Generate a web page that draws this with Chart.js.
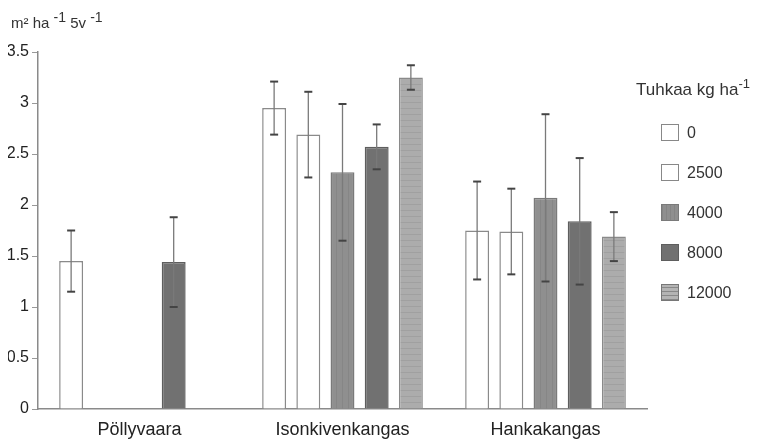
<!DOCTYPE html>
<html>
<head>
<meta charset="utf-8">
<script src="https://cdn.jsdelivr.net/npm/chart.js@4"></script>
<style>
  body { margin: 0; background: #fff; }
  #wrap { position: relative; width: 768px; height: 441px; }
  #legend, #ytitle { position: absolute; left: 0; top: 0; font-family: "Liberation Sans", Arial, sans-serif; color: #333; }
  #ytitle { left: 11px; top: 9px; font-size: 15px; white-space: nowrap; }
  #ytitle sup { font-size: 14px; }
  #legend .title { position: absolute; left: 636px; top: 76px; font-size: 17px; white-space: nowrap; }
  #legend .title sup { font-size: 13px; }
  #legend .item { position: absolute; left: 661px; font-size: 16px; height: 17px; line-height: 17px; white-space: nowrap; }
  #legend .sw { display: inline-block; width: 18px; height: 17px; box-sizing: border-box; border: 1px solid #888; vertical-align: top; margin-right: 8px; }
</style>
</head>
<body>
<div id="wrap">
  <canvas id="chart"></canvas>
  <div id="ytitle">m² ha <sup>-1</sup> 5v <sup>-1</sup></div>
  <div id="legend"></div>
</div>
<script>
// Kohteet
const kohteet = ['Pöllyvaara', 'Isonkivenkangas', 'Hankakangas'];

// Tuhkamäärät (kg/ha)
const tuhkaa = ['0', '2500', '4000', '8000', '12000'];

// Kasvu m2/ha/5v, keskiarvot
const arvot0 = [1.45, 2.95, 1.75];
const arvot2500 = [null, 2.69, 1.74];
const arvot4000 = [null, 2.32, 2.07];
const arvot8000 = [1.44, 2.57, 1.84];
const arvot12000 = [null, 3.25, 1.69];

// Keskihajonnat
const hajonta0 = [0.30, 0.26, 0.48];
const hajonta2500 = [null, 0.42, 0.42];
const hajonta4000 = [null, 0.67, 0.82];
const hajonta8000 = [0.44, 0.22, 0.62];
const hajonta12000 = [null, 0.12, 0.24];

// Kuviot pylväisiin
function makePattern(base, line, vertical) {
  const c = document.createElement('canvas');
  c.width = 6; c.height = 6;
  const g = c.getContext('2d');
  g.fillStyle = base;
  g.fillRect(0, 0, 6, 6);
  g.fillStyle = line;
  if (vertical) g.fillRect(0, 0, 1, 6);
  else g.fillRect(0, 0, 6, 1);
  return g.createPattern(c, 'repeat');
}

const fills = [
  '#ffffff',
  '#ffffff',
  makePattern('#8f8f8f', '#868686', true),
  '#717171',
  makePattern('#acacac', '#a0a0a0', false)
];
const borders = ['#8a8a8a', '#8a8a8a', '#7a7a7a', '#5e5e5e', '#8a8a8a'];
const swatchCss = [
  'background:#fff',
  'background:#fff',
  'background:#8f8f8f repeating-linear-gradient(90deg,#858585 0 1px,#8f8f8f 1px 4px);border-color:#7a7a7a',
  'background:#717171;border-color:#5e5e5e',
  'background:#b4b4b4 repeating-linear-gradient(0deg,#888 0 1px,#b4b4b4 1px 4px);border-color:#777'
];

const arvot = [arvot0, arvot2500, arvot4000, arvot8000, arvot12000];
const hajonnat = [hajonta0, hajonta2500, hajonta4000, hajonta8000, hajonta12000];

// Virhepalkit
const virhepalkit = {
  id: 'virhepalkit',
  afterDatasetsDraw(chart) {
    const ctx = chart.ctx;
    const y = chart.scales.y;
    chart.data.datasets.forEach((ds, i) => {
      const meta = chart.getDatasetMeta(i);
      meta.data.forEach((bar, j) => {
        const v = ds.data[j];
        const e = ds.virheet[j];
        if (v == null || e == null) return;
        const yTop = y.getPixelForValue(v + e);
        const yBot = y.getPixelForValue(v - e);
        ctx.save();
        ctx.strokeStyle = '#7a7a7a';
        ctx.lineWidth = 1.3;
        ctx.beginPath();
        ctx.moveTo(bar.x, yTop);
        ctx.lineTo(bar.x, yBot);
        ctx.stroke();
        ctx.strokeStyle = '#444';
        ctx.lineWidth = 2;
        [yTop, yBot].forEach(yy => {
          ctx.beginPath();
          ctx.moveTo(bar.x - 4, yy);
          ctx.lineTo(bar.x + 4, yy);
          ctx.stroke();
        });
        ctx.restore();
      });
    });
  }
};

const datasets = tuhkaa.map((t, i) => ({
  label: t,
  data: arvot[i],
  virheet: hajonnat[i],
  backgroundColor: fills[i],
  borderColor: borders[i],
  borderWidth: 1.5,
  categoryPercentage: 0.842,
  barPercentage: 0.7
}));

Chart.defaults.font.family = '"Liberation Sans", Arial, sans-serif';
Chart.defaults.color = '#333';

new Chart(document.getElementById('chart'), {
  type: 'bar',
  data: { labels: kohteet, datasets: datasets },
  options: {
    responsive: true,
    maintainAspectRatio: false,
    animation: false,
    layout: { padding: { left: 8, right: 121, top: 52, bottom: 0 } },
    plugins: {
      legend: { display: false },
      tooltip: { enabled: false }
    },
    scales: {
      x: {
        afterFit: s => { s.height = 32; },
        grid: { display: false },
        border: { display: true, color: '#8a8a8a', width: 1.5 },
        ticks: { color: '#222', font: { size: 18 }, padding: 2 }
      },
      y: {
        min: 0,
        max: 3.5,
        afterFit: s => { s.width = 30; },
        grid: { display: true, drawOnChartArea: false, tickLength: 6, color: '#999' },
        border: { display: true, color: '#8a8a8a', width: 1.5 },
        ticks: {
          stepSize: 0.5,
          color: '#222',
          font: { size: 16 },
          padding: 3,
          callback: v => String(v)
        }
      }
    }
  },
  plugins: [virhepalkit]
});

// Selite
let html = '<div class="title">Tuhkaa kg ha<sup>-1</sup></div>';
tuhkaa.forEach((t, i) => {
  const top = 124 + i * 40;
  html += `<div class="item" style="top:${top}px"><span class="sw" style="${swatchCss[i]}"></span>${t}</div>`;
});
document.getElementById('legend').innerHTML = html;
</script>
</body>
</html>
